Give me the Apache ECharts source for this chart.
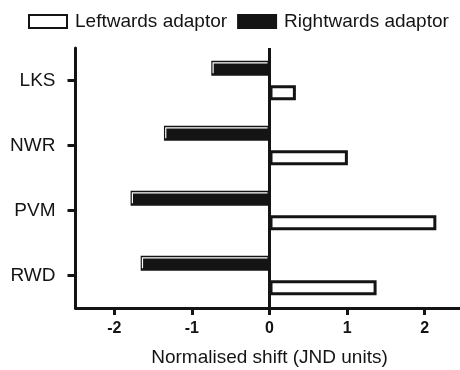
<!DOCTYPE html>
<html>
<head>
<meta charset="utf-8">
<script src="https://cdn.jsdelivr.net/npm/echarts@6/dist/echarts.min.js"></script>
<style>
html,body{margin:0;padding:0;background:#fff;}
#c{width:460px;height:370px;}
</style>
</head>
<body>
<div id="c"></div>
<script>
// Data (categories listed bottom-to-top along the y axis)
const categories = ['RWD', 'PVM', 'NWR', 'LKS'];
const leftwardsAdaptor = [1.38, 2.15, 1.01, 0.34];
const rightwardsAdaptor = [-1.66, -1.79, -1.36, -0.75];
const xTickValues = [-2, -1, 0, 1, 2];
const xName = 'Normalised shift (JND units)';
const seriesNames = ['Leftwards adaptor', 'Rightwards adaptor'];

const INK = '#141414';
const FONT = '"Liberation Sans", Arial, sans-serif';
const BAR_W = 15;
const BAR_GAP = 0.63;
const blackOffset = (BAR_W + BAR_W * BAR_GAP) / 2;

const chart = echarts.init(document.getElementById('c'), null, {renderer: 'canvas'});
chart.setOption({
  animation: false,
  backgroundColor: '#fff',
  legend: {
    data: seriesNames,
    left: 28,
    top: 12,
    padding: 0,
    icon: 'rect',
    itemWidth: 38,
    itemHeight: 13,
    itemGap: 10,
    textStyle: {fontFamily: FONT, fontSize: 19, color: INK, padding: [0, 0, 0, 3]},
    selectedMode: false
  },
  grid: {left: 75.5, top: 48, width: 388, height: 260, outerBoundsMode: 'none', containLabel: false},
  xAxis: {
    type: 'value',
    min: -2.5,
    max: 2.5,
    name: xName,
    nameLocation: 'middle',
    nameGap: 40,
    nameTextStyle: {fontFamily: FONT, fontSize: 19, color: INK},
    axisLine: {show: true, onZero: false, lineStyle: {color: INK, width: 3}},
    axisTick: {show: true, length: 7, lineStyle: {color: INK, width: 3}, customValues: xTickValues},
    axisLabel: {fontFamily: FONT, fontSize: 16, fontWeight: 'bold', color: INK, margin: 13, customValues: xTickValues},
    splitLine: {show: false}
  },
  yAxis: {
    type: 'category',
    data: categories,
    axisLine: {show: true, onZero: false, lineStyle: {color: INK, width: 3}},
    axisTick: {show: true, alignWithLabel: true, length: 8, lineStyle: {color: INK, width: 3}},
    axisLabel: {fontFamily: FONT, fontSize: 19, color: INK, margin: 20},
    splitLine: {show: false}
  },
  series: [
    {
      name: seriesNames[1],
      type: 'bar',
      data: rightwardsAdaptor,
      barWidth: BAR_W,
      barGap: (BAR_GAP * 100) + '%',
      itemStyle: {color: INK, borderColor: INK, borderWidth: 3}
    },
    {
      name: seriesNames[0],
      type: 'bar',
      data: leftwardsAdaptor,
      barWidth: BAR_W,
      barGap: (BAR_GAP * 100) + '%',
      itemStyle: {color: '#ffffff', borderColor: INK, borderWidth: 3},
      markLine: {
        silent: true,
        symbol: ['none', 'none'],
        label: {show: false},
        lineStyle: {color: INK, width: 3, type: 'solid'},
        data: [{xAxis: 0}],
        z: 10
      }
    },
    {
      type: 'custom',
      silent: true,
      data: rightwardsAdaptor.map((v, i) => [v, i]),
      encode: {x: 0, y: 1},
      z: 5,
      renderItem: function (params, api) {
        const v = api.value(0);
        const ci = api.value(1);
        const p = api.coord([v, ci]);
        const z0 = api.coord([0, ci]);
        const cy = p[1] - blackOffset;
        const xl = p[0] + 1.8;
        return {
          type: 'polyline',
          shape: {points: [[z0[0] - 2, cy - 5.5], [xl, cy - 5.5], [xl, cy + 5]]},
          style: {stroke: '#ffffff', lineWidth: 1.2, fill: null}
        };
      }
    }
  ]
});
</script>
</body>
</html>
